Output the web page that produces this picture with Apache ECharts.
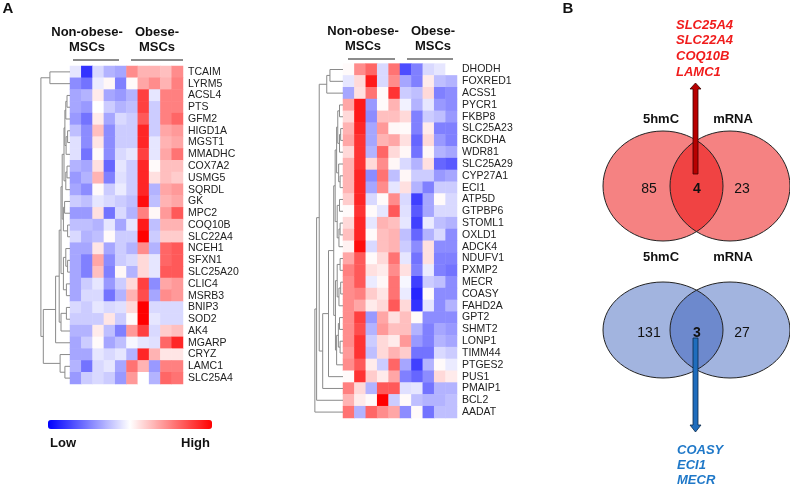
<!DOCTYPE html>
<html>
<head>
<meta charset="utf-8">
<script src="https://cdn.jsdelivr.net/npm/echarts@6/dist/echarts.min.js"></script>
<style>
  html, body { margin: 0; padding: 0; background: #fff; }
  #main { width: 790px; height: 487px; }
</style>
</head>
<body>
<div id="main"></div>
<script>
// samples: 5 non-obese then 5 obese MSCs
const samples = ['N1', 'N2', 'N3', 'N4', 'N5', 'O1', 'O2', 'O3', 'O4', 'O5'];

// left heatmap (higher in obese)
const genesA = ['TCAIM', 'LYRM5', 'ACSL4', 'PTS', 'GFM2', 'HIGD1A', 'MGST1', 'MMADHC', 'COX7A2', 'USMG5',
  'SQRDL', 'GK', 'MPC2', 'COQ10B', 'SLC22A4', 'NCEH1', 'SFXN1', 'SLC25A20', 'CLIC4', 'MSRB3',
  'BNIP3', 'SOD2', 'AK4', 'MGARP', 'CRYZ', 'LAMC1', 'SLC25A4'];
const valuesA = [
  [-0.10, -0.80, -0.15, -0.30, -0.35, 0.45, 0.30, 0.30, 0.25, 0.45],
  [-0.45, -0.55, -0.08, 0.03, -0.50, 0.02, 0.35, 0.45, 0.30, 0.50],
  [-0.35, -0.30, 0.08, -0.35, -0.40, -0.30, 0.75, -0.10, 0.50, 0.50],
  [-0.35, -0.40, 0.00, -0.20, -0.30, -0.25, 0.75, -0.20, 0.50, 0.50],
  [-0.40, -0.55, 0.08, -0.35, -0.15, -0.20, 0.65, -0.20, 0.50, 0.60],
  [-0.25, -0.45, 0.25, -0.45, -0.20, -0.20, 0.85, -0.20, 0.35, 0.40],
  [-0.12, -0.45, 0.10, -0.45, -0.20, -0.20, 0.85, -0.10, 0.30, 0.35],
  [-0.12, -0.55, 0.02, -0.45, -0.15, -0.10, 0.75, -0.10, 0.35, 0.55],
  [-0.30, -0.35, 0.12, -0.60, -0.10, -0.20, 0.85, 0.02, 0.25, 0.25],
  [-0.40, -0.30, 0.30, -0.50, -0.12, -0.20, 0.85, 0.12, 0.25, 0.20],
  [-0.35, -0.45, 0.02, -0.20, -0.08, -0.20, 0.85, -0.30, 0.35, 0.40],
  [-0.20, -0.25, -0.10, -0.15, -0.20, -0.25, 0.95, -0.25, 0.30, 0.35],
  [-0.40, -0.40, 0.12, -0.55, -0.15, -0.30, 0.50, 0.03, 0.40, 0.65],
  [-0.25, -0.25, -0.30, -0.10, -0.35, -0.10, 0.90, -0.25, 0.30, 0.30],
  [-0.15, -0.30, -0.25, 0.02, -0.20, -0.20, 1.00, -0.20, 0.20, 0.20],
  [-0.35, -0.35, 0.10, -0.35, -0.20, -0.30, 0.45, -0.30, 0.60, 0.65],
  [-0.35, -0.50, 0.35, -0.45, -0.20, -0.15, 0.15, -0.10, 0.60, 0.65],
  [-0.35, -0.50, 0.25, -0.50, 0.03, -0.30, 0.15, -0.10, 0.65, 0.65],
  [-0.35, -0.20, -0.10, -0.40, -0.20, 0.15, 0.75, -0.45, 0.35, 0.40],
  [-0.35, -0.15, -0.15, -0.55, -0.30, 0.30, 0.70, -0.35, 0.45, 0.40],
  [-0.15, -0.20, -0.10, -0.15, -0.12, 0.15, 1.00, -0.15, -0.15, -0.15],
  [-0.20, -0.20, -0.20, 0.10, -0.20, 0.02, 1.00, -0.10, -0.15, -0.15],
  [-0.30, -0.30, 0.08, -0.25, -0.50, 0.40, 0.75, -0.15, 0.20, 0.25],
  [-0.35, -0.20, 0.02, -0.35, -0.25, -0.03, -0.10, -0.12, 0.60, 0.85],
  [-0.35, -0.35, -0.10, -0.15, -0.10, -0.30, 0.85, 0.30, 0.10, 0.10],
  [-0.30, -0.55, -0.15, -0.10, -0.35, 0.55, 0.30, -0.40, 0.50, 0.50],
  [-0.40, -0.20, -0.15, -0.20, -0.40, 0.40, 0.00, -0.30, 0.60, 0.55]
];
// merges [left, right, height]; new cluster index = genes count + merge index
const linkA = [
  [2, 3, 0.10], [27, 4, 0.14], [5, 6, 0.08], [29, 7, 0.13], [28, 30, 0.17],
  [8, 9, 0.10], [32, 10, 0.14], [31, 33, 0.20], [13, 14, 0.08], [11, 12, 0.18],
  [36, 35, 0.22], [34, 37, 0.26], [16, 17, 0.08], [15, 39, 0.14], [18, 19, 0.12],
  [40, 41, 0.22], [38, 42, 0.30], [20, 21, 0.12], [44, 22, 0.30], [43, 45, 0.36],
  [46, 23, 0.48], [25, 26, 0.17], [24, 48, 0.33], [47, 49, 0.89], [0, 1, 0.67],
  [51, 50, 0.97]
];

// right heatmap (higher in non-obese)
const genesB = ['DHODH', 'FOXRED1', 'ACSS1', 'PYCR1', 'FKBP8', 'SLC25A23', 'BCKDHA', 'WDR81', 'SLC25A29', 'CYP27A1',
  'ECI1', 'ATP5D', 'GTPBP6', 'STOML1', 'OXLD1', 'ADCK4', 'NDUFV1', 'PXMP2', 'MECR', 'COASY',
  'FAHD2A', 'GPT2', 'SHMT2', 'LONP1', 'TIMM44', 'PTGES2', 'PUS1', 'PMAIP1', 'BCL2', 'AADAT'];
const valuesB = [
  [0.02, 0.45, 0.60, -0.15, 0.55, -0.70, -0.50, -0.15, -0.10, 0.00],
  [-0.10, 0.15, 0.90, -0.15, 0.45, -0.35, -0.50, 0.08, -0.25, -0.30],
  [-0.35, 0.12, 0.55, 0.02, 0.80, -0.20, -0.25, 0.15, -0.50, -0.45],
  [0.35, 0.90, -0.40, 0.02, 0.30, -0.05, -0.30, -0.10, -0.40, -0.45],
  [0.15, 0.90, -0.45, 0.25, 0.25, 0.15, -0.50, -0.20, -0.25, -0.40],
  [0.30, 0.85, -0.35, 0.40, 0.03, 0.02, -0.50, 0.08, -0.50, -0.50],
  [0.35, 0.80, -0.35, 0.30, 0.35, 0.12, -0.60, 0.15, -0.40, -0.50],
  [0.15, 0.80, -0.30, 0.60, 0.15, 0.03, -0.55, 0.03, -0.30, -0.35],
  [0.30, 0.80, 0.15, 0.45, 0.03, -0.15, -0.30, 0.12, -0.60, -0.65],
  [0.30, 0.85, -0.45, 0.55, -0.25, 0.03, -0.20, -0.20, -0.40, -0.35],
  [0.30, 0.85, -0.35, 0.45, -0.10, 0.12, -0.30, -0.50, -0.20, -0.20],
  [0.20, 0.85, -0.15, 0.02, 0.45, -0.15, -0.75, -0.35, 0.02, -0.15],
  [0.02, 0.80, 0.02, -0.10, 0.65, -0.12, -0.65, -0.35, -0.15, -0.15],
  [0.15, 0.85, -0.10, 0.30, 0.25, -0.10, -0.75, -0.08, -0.25, -0.30],
  [0.25, 0.85, 0.02, 0.25, 0.30, -0.25, -0.60, -0.30, -0.15, -0.45],
  [0.05, 0.95, -0.15, 0.25, 0.30, -0.20, -0.45, 0.12, -0.45, -0.45],
  [0.35, 0.65, 0.02, 0.15, 0.55, -0.10, -0.55, 0.12, -0.50, -0.50],
  [0.50, 0.65, 0.12, 0.08, 0.45, 0.12, -0.50, -0.08, -0.50, -0.55],
  [0.45, 0.65, -0.08, 0.03, 0.55, -0.03, -0.75, -0.20, -0.25, -0.45],
  [0.45, 0.50, 0.20, 0.10, 0.55, -0.08, -0.85, 0.02, -0.45, -0.45],
  [0.45, 0.35, 0.08, 0.15, 0.65, 0.15, -0.80, -0.10, -0.45, -0.30],
  [0.45, 0.75, -0.40, 0.35, 0.12, 0.25, 0.02, -0.45, -0.45, -0.45],
  [0.45, 0.70, -0.30, 0.40, 0.25, 0.25, -0.30, -0.50, -0.35, -0.40],
  [0.45, 0.80, -0.20, 0.15, 0.08, 0.40, -0.40, -0.50, -0.30, -0.35],
  [0.40, 0.80, -0.25, 0.15, 0.30, 0.20, -0.55, -0.55, -0.15, -0.20],
  [0.45, 0.65, 0.08, -0.20, 0.60, -0.35, -0.75, -0.30, 0.02, -0.08],
  [0.02, 0.80, 0.20, 0.08, 0.35, -0.50, -0.60, -0.45, 0.15, 0.08],
  [0.50, 0.15, -0.30, 0.65, 0.65, -0.12, -0.10, -0.55, -0.30, -0.30],
  [0.30, 0.08, 0.02, 1.00, -0.20, 0.02, -0.25, -0.30, -0.30, -0.25],
  [0.55, -0.30, 0.60, 0.45, 0.35, -0.45, 0.02, -0.55, -0.25, -0.25]
];
const linkB = [
  [0, 1, 0.45], [30, 2, 0.56], [3, 4, 0.12], [5, 6, 0.08], [33, 7, 0.12],
  [32, 34, 0.18], [9, 10, 0.10], [8, 36, 0.15], [35, 37, 0.22], [11, 12, 0.12],
  [13, 14, 0.10], [40, 15, 0.14], [39, 41, 0.20], [38, 42, 0.27], [16, 17, 0.10],
  [18, 19, 0.08], [45, 20, 0.14], [44, 46, 0.20], [21, 22, 0.12], [23, 24, 0.10],
  [48, 49, 0.16], [50, 25, 0.22], [47, 51, 0.26], [43, 52, 0.32], [53, 26, 0.50],
  [54, 27, 0.70], [31, 55, 0.82], [56, 28, 0.91], [57, 29, 0.97]
];

// Venn counts: [5hmC only, overlap, mRNA only]
const vennUp = [85, 4, 23];
const vennDown = [131, 3, 27];
const overlapUp = ['SLC25A4', 'SLC22A4', 'COQ10B', 'LAMC1'];
const overlapDown = ['COASY', 'ECI1', 'MECR'];

const FONT = '"Liberation Sans", Arial, sans-serif';

function cells(values) {
  const out = [];
  values.forEach((row, i) => row.forEach((v, j) => out.push([j, i, v])));
  return out;
}

// each merge -> [y1, h1, y2, h2, h]
function dendro(n, links) {
  const pos = [], hgt = [];
  for (let i = 0; i < n; i++) { pos.push(i); hgt.push(0); }
  return links.map(([a, b, h]) => {
    const seg = [pos[a], hgt[a], pos[b], hgt[b], h];
    pos.push((pos[a] + pos[b]) / 2);
    hgt.push(h);
    return seg;
  });
}

function renderLink(params, api) {
  const pts = [
    [api.value(1), api.value(0)], [api.value(4), api.value(0)],
    [api.value(4), api.value(2)], [api.value(3), api.value(2)]
  ].map(p => api.coord(p));
  return { type: 'polyline', shape: { points: pts }, style: { stroke: '#8a8a8a', lineWidth: 1, fill: null } };
}

function heatAxisY(genes, idx) {
  return {
    type: 'category', gridIndex: idx, data: genes, inverse: true, position: 'right',
    axisLine: { show: false }, axisTick: { show: false },
    axisLabel: { interval: 0, margin: 5, fontSize: 10.5, color: '#222', fontFamily: FONT }
  };
}

const txt = (text, x, y, opts) => ({
  type: 'text', x, y, silent: true,
  style: Object.assign({ text, font: 'bold 13px ' + FONT, fill: '#111', textAlign: 'center', textVerticalAlign: 'middle' }, opts || {})
});
const hline = (x1, x2, y) => ({
  type: 'line', silent: true, shape: { x1, y1: y, x2, y2: y }, style: { stroke: '#666', lineWidth: 1.5 }
});

const graphics = [
  txt('A', 8, 9, { font: 'bold 15px ' + FONT }),
  txt('B', 568, 9, { font: 'bold 15px ' + FONT }),
  txt('Non-obese-', 87, 32), txt('MSCs', 87, 47), txt('Obese-', 157, 32), txt('MSCs', 157, 47),
  hline(73, 119, 60), hline(131, 183, 60),
  txt('Non-obese-', 363, 31), txt('MSCs', 363, 46), txt('Obese-', 433, 31), txt('MSCs', 433, 46),
  hline(348, 395, 59), hline(407, 453, 59),
  txt('Low', 50, 443, { textAlign: 'left' }), txt('High', 210, 443, { textAlign: 'right' })
];

function venn(cy, ry, color, counts, ty) {
  const items = [];
  [663, 730].forEach(cx => items.push({ type: 'ellipse', silent: true, shape: { cx, cy, rx: 60, ry }, style: { fill: color, stroke: null } }));
  [663, 730].forEach(cx => items.push({ type: 'ellipse', silent: true, shape: { cx, cy, rx: 60, ry }, style: { fill: null, stroke: '#222', lineWidth: 1 } }));
  items.push(txt('5hmC', 661, ty), txt('mRNA', 733, ty));
  items.push(txt(String(counts[0]), 649, cy + 3, { font: '14px ' + FONT }));
  items.push(txt(String(counts[1]), 697, cy + 3, { font: 'bold 14px ' + FONT }));
  items.push(txt(String(counts[2]), 742, cy + 3, { font: '14px ' + FONT }));
  return items;
}
graphics.push(...venn(186, 55, 'rgba(235,0,0,0.49)', vennUp, 119));
graphics.push(...venn(330, 48, 'rgba(40,80,180,0.43)', vennDown, 257));

// arrows
graphics.push({
  type: 'polygon', silent: true,
  shape: { points: [[693, 174], [693, 89], [690, 89], [695.5, 83], [701, 89], [698, 89], [698, 174]] },
  style: { fill: '#b80000', stroke: '#3a0000', lineWidth: 0.8 }
});
graphics.push({
  type: 'polygon', silent: true,
  shape: { points: [[693, 338], [693, 425], [690, 425], [695.5, 432], [701, 425], [698, 425], [698, 338]] },
  style: { fill: '#1f6dbd', stroke: '#0b2a4a', lineWidth: 0.8 }
});
overlapUp.forEach((g, i) => graphics.push(txt(g, 676, 25 + i * 15.8, { textAlign: 'left', font: 'italic bold 13px ' + FONT, fill: '#f01c1c' })));
overlapDown.forEach((g, i) => graphics.push(txt(g, 677, 450 + i * 15, { textAlign: 'left', font: 'italic bold 13px ' + FONT, fill: '#1f78c8' })));

const chart = echarts.init(document.getElementById('main'));
chart.setOption({
  animation: false,
  grid: [
    { left: 70, top: 66, width: 113, height: 318 },
    { left: 40, top: 66, width: 30, height: 318 },
    { left: 343, top: 63.6, width: 114, height: 354.4 },
    { left: 314, top: 63.6, width: 29, height: 354.4 }
  ],
  xAxis: [
    { type: 'category', gridIndex: 0, data: samples, show: false },
    { type: 'value', gridIndex: 1, min: 0, max: 1, inverse: true, show: false },
    { type: 'category', gridIndex: 2, data: samples, show: false },
    { type: 'value', gridIndex: 3, min: 0, max: 1, inverse: true, show: false }
  ],
  yAxis: [
    heatAxisY(genesA, 0),
    { type: 'value', gridIndex: 1, min: -0.5, max: genesA.length - 0.5, inverse: true, show: false },
    heatAxisY(genesB, 2),
    { type: 'value', gridIndex: 3, min: -0.5, max: genesB.length - 0.5, inverse: true, show: false }
  ],
  visualMap: {
    type: 'continuous', min: -1, max: 1, seriesIndex: [0, 2], orient: 'horizontal',
    left: 48, top: 420, padding: 0, itemWidth: 9, itemHeight: 164,
    calculable: false, hoverLink: false, text: null,
    inRange: { color: ['#0000ff', '#ffffff', '#ff0000'] }
  },
  series: [
    { type: 'heatmap', xAxisIndex: 0, yAxisIndex: 0, data: cells(valuesA), emphasis: { disabled: true } },
    { type: 'custom', xAxisIndex: 1, yAxisIndex: 1, data: dendro(genesA.length, linkA),
      encode: { x: [1, 3, 4], y: [0, 2] }, renderItem: renderLink, silent: true, clip: false },
    { type: 'heatmap', xAxisIndex: 2, yAxisIndex: 2, data: cells(valuesB), emphasis: { disabled: true } },
    { type: 'custom', xAxisIndex: 3, yAxisIndex: 3, data: dendro(genesB.length, linkB),
      encode: { x: [1, 3, 4], y: [0, 2] }, renderItem: renderLink, silent: true, clip: false }
  ],
  graphic: graphics
});
</script>
</body>
</html>
